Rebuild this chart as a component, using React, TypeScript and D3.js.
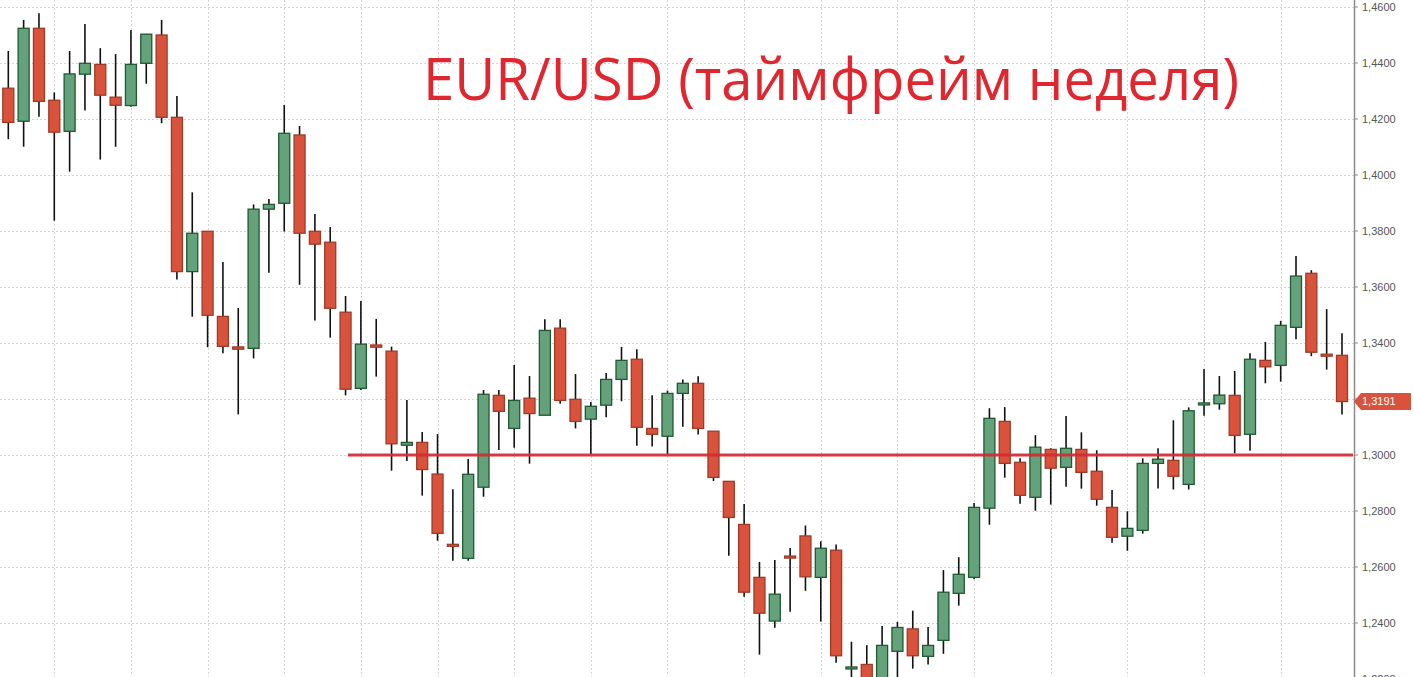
import React from "react";
import * as d3 from "d3";

const openV = [
  1.4310, 1.4192, 1.4524, 1.4267, 1.4156, 1.4360, 1.4395, 1.4278, 1.4248, 1.4399,
  1.4500, 1.4206, 1.3655, 1.3799, 1.3495, 1.3386, 1.3381, 1.3878, 1.3899, 1.4143,
  1.3799, 1.3760, 1.3510, 1.3238, 1.3393, 1.3371, 1.3035, 1.3045, 1.2932, 1.2681,
  1.2631, 1.2885, 1.3213, 1.3095, 1.3203, 1.3142, 1.3453, 1.3199, 1.3128, 1.3178,
  1.3270, 1.3342, 1.3095, 1.3067, 1.3220, 1.3256, 1.3085, 1.2906, 1.2752, 1.2563,
  1.2407, 1.2639, 1.2711, 1.2563, 1.2660, 1.2237, 1.2252, 1.2165, 1.2299, 1.2379,
  1.2281, 1.2338, 1.2506, 1.2563, 1.2810, 1.3120, 1.2974, 1.2849, 1.3020, 1.2956,
  1.3020, 1.2942, 1.2813, 1.2710, 1.2731, 1.2970, 1.2981, 1.2895, 1.3181, 1.3183,
  1.3213, 1.3074, 1.3338, 1.3320, 1.3456, 1.3649, 1.3360, 1.3356,
];
const highV = [
  1.4443, 1.4554, 1.4578, 1.4295, 1.4443, 1.4539, 1.4453, 1.4432, 1.4518, 1.4504,
  1.4554, 1.4282, 1.3938, 1.3800, 1.3689, 1.3525, 1.3895, 1.3914, 1.4250, 1.4175,
  1.3861, 1.3814, 1.3568, 1.3550, 1.3486, 1.3387, 1.3196, 1.3082, 1.3075, 1.2878,
  1.2986, 1.3232, 1.3232, 1.3321, 1.3282, 1.3485, 1.3485, 1.3289, 1.3189, 1.3293,
  1.3386, 1.3378, 1.3213, 1.3230, 1.3270, 1.3281, 1.3085, 1.2906, 1.2825, 1.2618,
  1.2625, 1.2668, 1.2748, 1.2692, 1.2680, 1.2333, 1.2321, 1.2389, 1.2404, 1.2444,
  1.2386, 1.2589, 1.2635, 1.2829, 1.3167, 1.3171, 1.2988, 1.3071, 1.3024, 1.3139,
  1.3081, 1.3017, 1.2875, 1.2799, 1.2988, 1.3024, 1.3124, 1.3170, 1.3307, 1.3282,
  1.3300, 1.3363, 1.3404, 1.3479, 1.3711, 1.3660, 1.3521, 1.3435,
];
const lowV = [
  1.4128, 1.4101, 1.4208, 1.3837, 1.4012, 1.4230, 1.4055, 1.4101, 1.4244, 1.4326,
  1.4185, 1.3627, 1.3494, 1.3385, 1.3363, 1.3145, 1.3345, 1.3651, 1.3798, 1.3608,
  1.3480, 1.3419, 1.3213, 1.3232, 1.3280, 1.2944, 1.2979, 1.2855, 1.2694, 1.2622,
  1.2622, 1.2851, 1.3018, 1.3026, 1.2969, 1.3142, 1.3183, 1.3095, 1.3003, 1.3135,
  1.3192, 1.3033, 1.3030, 1.3003, 1.3101, 1.3073, 1.2907, 1.2640, 1.2494, 1.2287,
  1.2383, 1.2440, 1.2515, 1.2405, 1.2258, 1.2150, 1.2100, 1.2130, 1.2180, 1.2237,
  1.2252, 1.2290, 1.2462, 1.2556, 1.2751, 1.2919, 1.2826, 1.2801, 1.2823, 1.2887,
  1.2880, 1.2819, 1.2687, 1.2658, 1.2719, 1.2880, 1.2877, 1.2877, 1.3140, 1.3162,
  1.3006, 1.3015, 1.3256, 1.3262, 1.3413, 1.3353, 1.3305, 1.3145,
];
const closeV = [
  1.4188, 1.4524, 1.4263, 1.4153, 1.4361, 1.4399, 1.4285, 1.4249, 1.4395, 1.4503,
  1.4206, 1.3655, 1.3792, 1.3499, 1.3388, 1.3378, 1.3878, 1.3895, 1.4149, 1.3792,
  1.3753, 1.3524, 1.3235, 1.3396, 1.3385, 1.3040, 1.3045, 1.2948, 1.2720, 1.2676,
  1.2931, 1.3217, 1.3156, 1.3195, 1.3148, 1.3445, 1.3195, 1.3120, 1.3174, 1.3270,
  1.3338, 1.3099, 1.3074, 1.3220, 1.3256, 1.3095, 1.2920, 1.2777, 1.2510, 1.2435,
  1.2503, 1.2635, 1.2565, 1.2667, 1.2283, 1.2243, 1.2160, 1.2320, 1.2384, 1.2283,
  1.2320, 1.2510, 1.2574, 1.2813, 1.3131, 1.2970, 1.2856, 1.3028, 1.2953, 1.3024,
  1.2938, 1.2842, 1.2706, 1.2738, 1.2970, 1.2985, 1.2924, 1.3158, 1.3186, 1.3214,
  1.3070, 1.3342, 1.3315, 1.3463, 1.3639, 1.3367, 1.3355, 1.3191,
];

const yTicks = [1.22, 1.24, 1.26, 1.28, 1.30, 1.32, 1.34, 1.36, 1.38, 1.40, 1.42, 1.44, 1.46];
const levelValue = 1.30;
const lastPriceLabel = "1,3191";
const title = "EUR/USD (таймфрейм неделя)";

const W = 1414;
const H = 677;
const AXIS_X = 1354;

const fmt = (v: number) => v.toFixed(4).replace(".", ",");

export default function App() {
  const n = openV.length;
  const x = d3.scaleLinear().domain([0, n - 1]).range([8.3, 1342]);
  const y = d3.scaleLinear().domain([1.22, 1.46]).range([679, 7]);
  const bw = 11;

  const gridX = d3.range(3, n, 5);
  const last = closeV[n - 1];
  const ly = y(last);

  return (
    <svg
      width={W}
      height={H}
      style={{ position: "absolute", left: 0, top: 0, background: "#fff" }}
      fontFamily="'Liberation Sans', Arial, sans-serif"
    >
      <rect x={0} y={0} width={W} height={H} fill="#fff" />
      {/* grid */}
      {yTicks.map((t) => (
        <line
          key={"gy" + t}
          x1={0}
          x2={AXIS_X}
          y1={Math.round(y(t)) + 0.5}
          y2={Math.round(y(t)) + 0.5}
          stroke="#d4d4d4"
          strokeDasharray="2,2"
        />
      ))}
      {gridX.map((i) => (
        <line
          key={"gx" + i}
          x1={Math.round(x(i)) + 0.5}
          x2={Math.round(x(i)) + 0.5}
          y1={0}
          y2={H}
          stroke="#d4d4d4"
          strokeDasharray="2,2"
        />
      ))}

      {/* title */}
      <text
        x={423}
        y={100}
        fontFamily="'Open Sans', 'Noto Sans', sans-serif"
        fontSize={59}
        fill="#e0262e"
        textLength={816}
        lengthAdjust="spacingAndGlyphs"
      >
        {title}
      </text>

      {/* candles */}
      {openV.map((o, i) => {
        const c = closeV[i];
        const up = c >= o;
        const cx = x(i);
        const top = y(Math.max(o, c));
        const bot = y(Math.min(o, c));
        const h = Math.max(bot - top, 2);
        return (
          <g key={"c" + i}>
            <line
              x1={cx}
              x2={cx}
              y1={y(highV[i])}
              y2={y(lowV[i])}
              stroke="#111"
              strokeWidth={1.6}
            />
            <rect
              x={cx - bw / 2}
              y={top}
              width={bw}
              height={h}
              fill={up ? "#64a27c" : "#d9533c"}
              stroke={up ? "#1f5a30" : "#9e3b27"}
              strokeWidth={1.3}
            />
          </g>
        );
      })}

      {/* level line */}
      <line
        x1={348}
        x2={AXIS_X - 1}
        y1={y(levelValue)}
        y2={y(levelValue)}
        stroke="#d42a35"
        strokeWidth={3}
        opacity={0.92}
      />

      {/* axis */}
      <rect x={AXIS_X} y={0} width={W - AXIS_X} height={H} fill="#fff" />
      <line x1={AXIS_X + 0.5} x2={AXIS_X + 0.5} y1={0} y2={H} stroke="#8a8a8a" strokeWidth={1.5} />
      {yTicks.map((t) => (
        <g key={"t" + t}>
          <line x1={AXIS_X} x2={AXIS_X + 4} y1={y(t)} y2={y(t)} stroke="#8a8a8a" />
          <text x={1362} y={y(t)} dy="0.35em" fontSize={11} fill="#555">
            {fmt(t)}
          </text>
        </g>
      ))}

      {/* last price tag */}
      <path
        d={`M${AXIS_X},${ly} L${AXIS_X + 7},${ly - 8.5} L${1411},${ly - 8.5} L${1411},${ly + 8.5} L${AXIS_X + 7},${ly + 8.5} Z`}
        fill="#d9533c"
      />
      <text x={1362} y={ly} dy="0.35em" fontSize={11} fill="#fff">
        {lastPriceLabel}
      </text>
    </svg>
  );
}
